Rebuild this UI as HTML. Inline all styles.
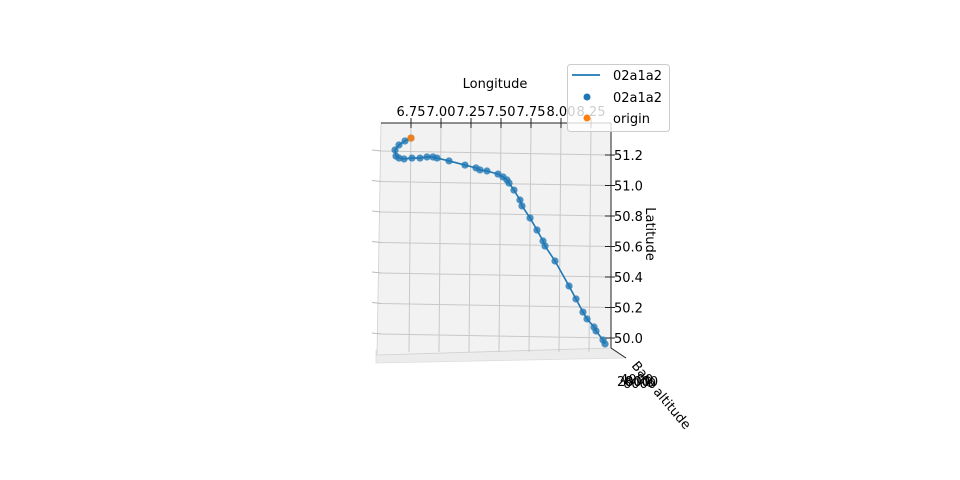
<!DOCTYPE html>
<html><head><meta charset="utf-8"><style>
body{margin:0;background:#fff;}
svg{display:block;font-family:"DejaVu Sans","Liberation Sans",sans-serif;}
</style></head><body>
<svg id="chart" width="960" height="480" viewBox="0 0 960 480">
  <g id="pane">
    <polygon points="376,350 611,348 626,358 376,363" fill="#ececec" stroke="#dcdcdc" stroke-width="0.8"/>
    <polygon points="381,123 611,123 611,348 377,355" fill="#f2f2f2" stroke="#d0d0d0" stroke-width="0.8"/>
    <g id="grid"></g>
  </g>
  <g id="axes"></g>
  <g id="series"></g>
  <text x="495" y="88" font-size="13" text-anchor="middle">Longitude</text>
  <text transform="translate(646,234) rotate(90)" font-size="13" text-anchor="middle">Latitude</text>
  <text transform="translate(658,398) rotate(50)" font-size="13" text-anchor="middle">Baro altitude</text>
  <g font-size="13">
    <text x="617" y="386">2000</text><text x="620" y="384">4000</text><text x="623" y="388">6000</text><text x="625" y="386">8000</text>
  </g>
  <g>
    <rect x="567.5" y="64.5" width="102" height="67" rx="3" fill="#fff" fill-opacity="0.8" stroke="#ccc"/>
    <line x1="572" y1="75" x2="600" y2="75" stroke="#1f77b4" stroke-width="1.8"/>
    <text x="613" y="80" font-size="13">02a1a2</text>
    <circle cx="587" cy="97" r="3.5" fill="#1f77b4"/>
    <text x="613" y="102" font-size="13">02a1a2</text>
    <circle cx="587" cy="118" r="3.5" fill="#ff7f0e"/>
    <text x="613" y="123" font-size="13">origin</text>
  </g>
</svg>
<script>
const lonTicks = [6.75, 7.00, 7.25, 7.50, 7.75, 8.00, 8.25];
const lonTickLabels = ["6.75","7.00","7.25","7.50","7.75","8.00","8.25"];
const latTicks = [50.0, 50.2, 50.4, 50.6, 50.8, 51.0, 51.2];
const latTickLabels = ["50.0","50.2","50.4","50.6","50.8","51.0","51.2"];
const lons = [6.750,6.700,6.650,6.617,6.625,6.650,6.692,6.758,6.825,6.883,6.933,6.967,7.067,7.200,7.292,7.325,7.383,7.475,7.517,7.550,7.567,7.608,7.658,7.675,7.742,7.800,7.850,7.867,7.950,8.067,8.125,8.183,8.217,8.275,8.292,8.350,8.367];
const lats = [51.311,51.292,51.266,51.233,51.193,51.180,51.174,51.180,51.180,51.187,51.187,51.180,51.161,51.134,51.115,51.102,51.095,51.075,51.056,51.036,51.016,50.970,50.905,50.866,50.787,50.708,50.636,50.603,50.505,50.341,50.256,50.170,50.125,50.072,50.046,49.987,49.961];
const originLon = [6.750];
const originLat = [51.311];

const X = lon => 411 + (lon - 6.75) * 120;
const Y = lat => 338 - (lat - 50) * 152.5;
const NS = "http://www.w3.org/2000/svg";
function mk(tag, attrs, parent){const e=document.createElementNS(NS,tag);for(const k in attrs)e.setAttribute(k,attrs[k]);parent.appendChild(e);return e;}
const grid=document.getElementById('grid'), axes=document.getElementById('axes'), series=document.getElementById('series');

lonTicks.forEach((v,i)=>{
  const x=X(v);
  const g=mk('line',{x1:x,y1:123,x2:x-2,y2:352,stroke:'#c8c8c8','stroke-width':1},grid);
  
  
  const t=mk('line',{x1:x,y1:118,x2:x,y2:128,stroke:'#222','stroke-width':1},axes);
  
  
  const l=mk('text',{x:x,y:116,'font-size':13,'text-anchor':'middle'},axes);
  l.textContent=lonTickLabels[i];
  
  
});
latTicks.forEach((v,i)=>{
  const y=Y(v);
  const g=mk('line',{x1:381,y1:y-4,x2:611,y2:y,stroke:'#c8c8c8','stroke-width':1},grid);
  
  
  const lt=mk('line',{x1:372,y1:y-5,x2:381,y2:y-4,stroke:'#bbb','stroke-width':1},grid);
  
  
  const t=mk('line',{x1:605,y1:y,x2:615,y2:y,stroke:'#222','stroke-width':1},axes);
  
  
  const l=mk('text',{x:614,y:y+5,'font-size':13},axes);
  l.textContent=latTickLabels[i];
  
  
});
const ax1=mk('line',{x1:381,y1:123,x2:611,y2:123,stroke:'#222','stroke-width':1},axes);


const ax2=mk('line',{x1:611,y1:123,x2:611,y2:348,stroke:'#222','stroke-width':1},axes);


const ax3=mk('line',{x1:611,y1:348,x2:626,y2:358,stroke:'#222','stroke-width':1},axes);



const path=mk('polyline',{points:lons.map((v,i)=>X(v)+','+Y(lats[i])).join(' '),fill:'none',stroke:'#1f77b4','stroke-width':1.6},series);


lons.forEach((v,i)=>{
  const c=mk('circle',{cx:X(v),cy:Y(lats[i]),r:3.6,fill:'#1f77b4','fill-opacity':0.8},series);
  
  
});
originLon.forEach((v,i)=>{
  const c=mk('circle',{cx:X(v),cy:Y(originLat[i]),r:3.6,fill:'#ff7f0e','fill-opacity':0.9},series);
  
  
});
</script>
</body></html>
